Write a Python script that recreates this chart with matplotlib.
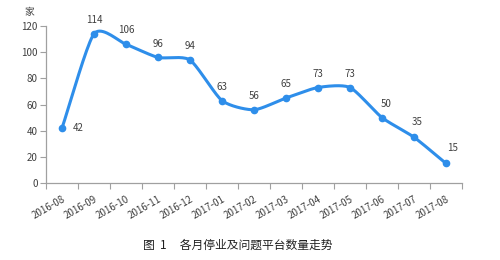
import matplotlib
matplotlib.use("Agg")
import matplotlib.pyplot as plt
import numpy as np

plt.rcParams['font.family'] = ['Noto Sans CJK SC', 'DejaVu Sans']

months = ['2016-08', '2016-09', '2016-10', '2016-11', '2016-12', '2017-01', '2017-02',
          '2017-03', '2017-04', '2017-05', '2017-06', '2017-07', '2017-08']
counts = [42, 114, 106, 96, 94, 63, 56, 65, 73, 73, 50, 35, 15]
y_ticks = [0, 20, 40, 60, 80, 100, 120]
# label offsets in points (dx, dy)
label_offsets = {0: (12, 0), 10: (3, 10), 11: (2, 11), 12: (5, 11)}


def smooth(x, y, k=9.0, n=20):
    # bezier smoothing like Excel's smoothed line
    x = np.asarray(x, float)
    y = np.asarray(y, float)
    px = np.concatenate([[2 * x[0] - x[1]], x, [2 * x[-1] - x[-2]]])
    py = np.concatenate([[2 * y[0] - y[1]], y, [2 * y[-1] - y[-2]]])
    xs, ys = [], []
    t = np.linspace(0, 1, n)
    for i in range(1, len(px) - 2):
        p0, p1, p2, p3 = (np.array([px[j], py[j]]) for j in range(i - 1, i + 3))
        c1 = p1 + (p2 - p0) / k
        c2 = p2 - (p3 - p1) / k
        pts = ((1 - t) ** 3)[:, None] * p1 + (3 * (1 - t) ** 2 * t)[:, None] * c1 \
            + (3 * (1 - t) * t ** 2)[:, None] * c2 + (t ** 3)[:, None] * p2
        xs.extend(pts[:, 0])
        ys.extend(pts[:, 1])
    return np.array(xs), np.array(ys)


fig = plt.figure(figsize=(5, 2.6), dpi=100)
ax = fig.add_axes([0.092, 0.296, 0.832, 0.604])

x = np.arange(len(months))
sx, sy = smooth(x, counts)
blue = '#2e8eea'
ax.plot(sx, sy, color=blue, lw=2.2, solid_capstyle='round', clip_on=False, zorder=3)
ax.plot(x, counts, 'o', color=blue, ms=4.5, clip_on=False, zorder=4)

for i, v in enumerate(counts):
    dx, dy = label_offsets.get(i, (0, 10))
    ax.annotate(str(v), (x[i], v), xytext=(dx, dy), textcoords='offset points',
                ha='center', va='center', fontsize=7, color='#404040', annotation_clip=False)

ax.set_xlim(-0.5, len(months) - 0.5)
ax.set_ylim(0, 120)
ax.set_yticks(y_ticks)
ax.set_xticks(np.arange(len(months) + 1) - 0.5, minor=False)
ax.set_xticklabels([])
ax.set_xticks(x, minor=True)
ax.set_xticklabels(months, minor=True, rotation=30, ha='right', rotation_mode='anchor')
ax.tick_params(axis='x', which='minor', length=0, labelsize=7, colors='#404040', pad=8)
ax.tick_params(axis='x', which='major', length=4, color='#a0a0a0', direction='out')
ax.tick_params(axis='y', length=4, color='#a0a0a0', labelsize=7, labelcolor='#404040', pad=2)

for s in ['top', 'right']:
    ax.spines[s].set_visible(False)
for s in ['left', 'bottom']:
    ax.spines[s].set_color('#a0a0a0')
    ax.spines[s].set_linewidth(0.9)

fig.text(0.058, 0.955, '家', fontsize=7, color='#404040', ha='center', va='center')
fig.text(0.476, 0.055, '图  1     各月停业及问题平台数量走势', fontsize=8.5, color='#202020',
         ha='center', va='center')

fig.savefig('out.png', dpi=100)
